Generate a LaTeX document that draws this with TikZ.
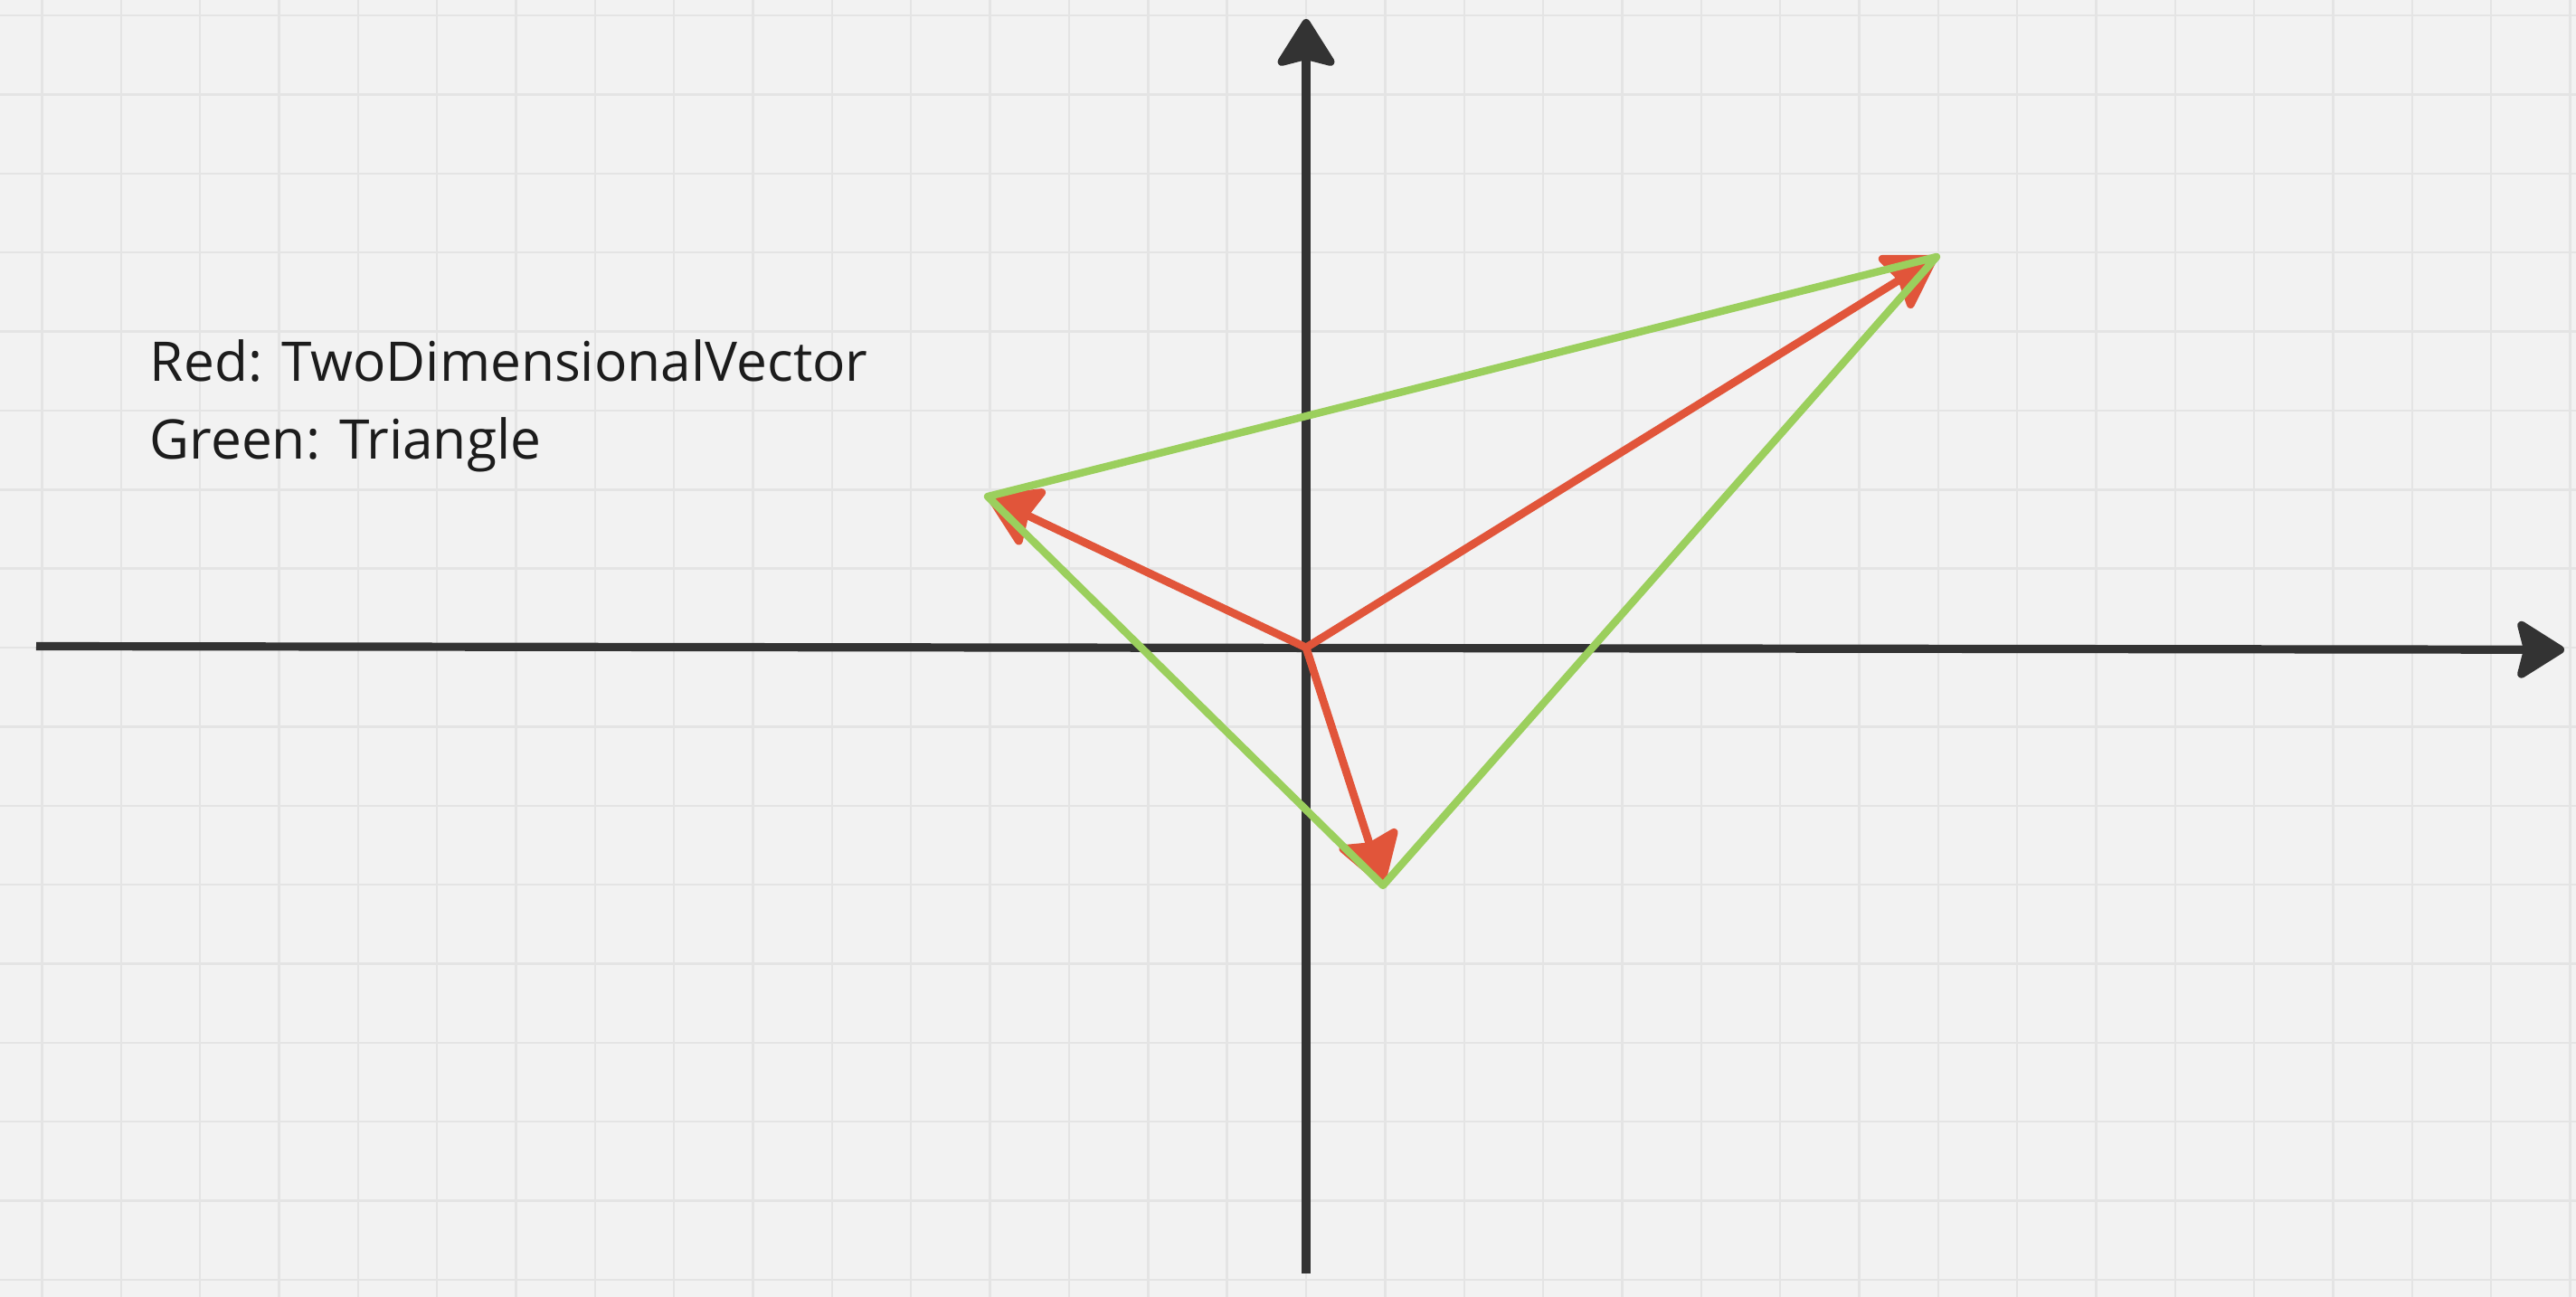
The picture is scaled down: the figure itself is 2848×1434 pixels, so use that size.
\documentclass[tikz,border=0pt]{standalone}
\usepackage{fontspec}
\setmainfont{Open Sans}
\usetikzlibrary{arrows.meta}
\definecolor{bgcol}{HTML}{F2F2F2}
\definecolor{gridcol}{HTML}{E4E4E4}
\definecolor{axiscol}{HTML}{333333}
\definecolor{redvec}{HTML}{E1553A}
\definecolor{greentri}{HTML}{9BCF5D}
\definecolor{textcol}{HTML}{1C1C1C}
\tikzset{
  gridline/.style={draw=gridcol, line width=0.6pt},
  axisline/.style={draw=axiscol, line width=2.3pt, -{Stealth[length=14.5pt, width=18pt, inset=2.2pt, round]}},
  redarrow/.style={draw=redvec, line width=2.2pt, -{Stealth[length=15.5pt, width=19pt, inset=2pt, round]}},
  greenline/.style={draw=greentri, line width=2.1pt, line join=round},
  legend/.style={anchor=base west, inner sep=0pt, text=textcol, font=\fontsize{15.1pt}{18pt}\selectfont}
}
\begin{document}
\begin{tikzpicture}[x=0.25pt, y=-0.25pt]
  \fill[bgcol] (0,0) rectangle (2848,1434);
  \useasboundingbox (0,0) rectangle (2848,1434);
  \foreach \k in {-16,...,16} \draw[gridline] ({1444+\k*87.35},0) -- ({1444+\k*87.35},1434);
  \foreach \k in {-8,...,8} \draw[gridline] (0,{716+\k*87.35}) -- (2848,{716+\k*87.35});

  \coordinate (xl) at (40,714.5);
  \coordinate (xr) at (2835,718.3);
  \coordinate (yb) at (1444,1408);
  \coordinate (yt) at (1444,21);
  \draw[axisline] (xl) -- (xr);
  \draw[axisline] (yb) -- (yt);

  \coordinate (O) at (1444,716);
  \coordinate (A) at (2141,284);
  \coordinate (B) at (1092,549);
  \coordinate (C) at (1529,979);

  \draw[redarrow] (O) -- (A);
  \draw[redarrow] (O) -- (B);
  \draw[redarrow] (O) -- (C);

  \draw[greenline] (B) -- (A) -- (C) -- cycle;

  \node[legend] (l1) at (165,421) {Red: TwoDimensionalVector};
  \node[legend] (l2) at (165,507) {Green: Triangle};
\end{tikzpicture}
\end{document}
